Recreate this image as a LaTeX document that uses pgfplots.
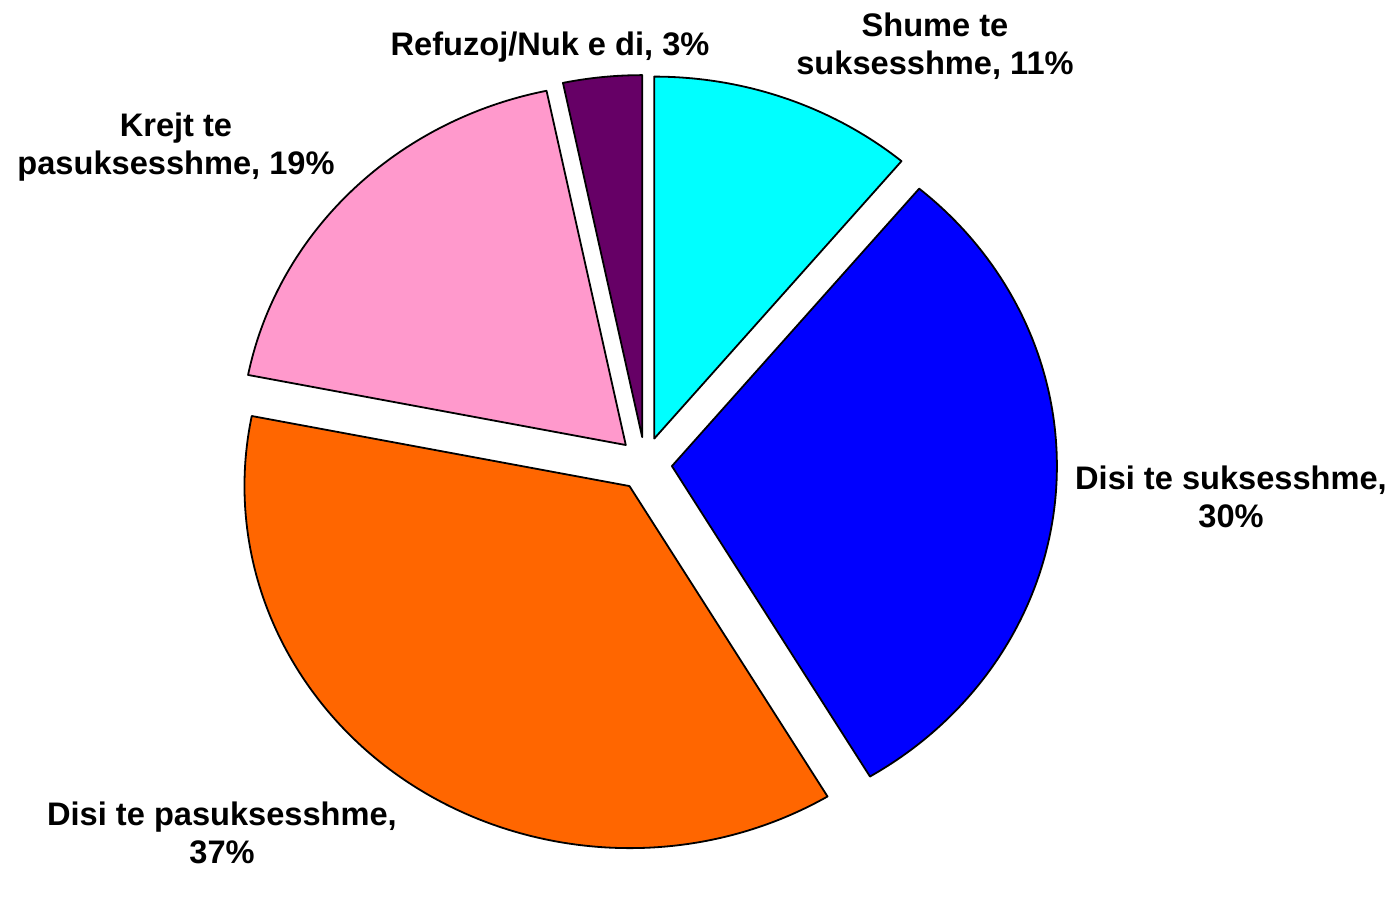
\documentclass[border=0pt]{standalone}
\usepackage{pgfplots}
\usepackage{pgfplotstable}
\pgfplotsset{compat=1.18}
\usepackage{fontspec}
\setmainfont{Liberation Sans}

\definecolor{sliceA}{RGB}{0,255,255}
\definecolor{sliceB}{RGB}{0,0,255}
\definecolor{sliceC}{RGB}{255,102,0}
\definecolor{sliceD}{RGB}{255,153,204}
\definecolor{sliceE}{RGB}{102,0,102}

% shares in percent, clockwise from 12 o'clock
\pgfplotstableread{
value color
11.1  sliceA
30.3  sliceB
36.7  sliceC
18.6  sliceD
3.3   sliceE
}\piedata

% pie geometry in axis units (1 unit = 1 px of the reference)
\def\pcx{645}\def\pcy{403}
\def\pexpl{27}

% start/end angle, colour and exploded centre of every slice
\pgfmathsetmacro\acc{90}
\pgfplotsforeachungrouped \i in {0,...,4}{%
  \pgfplotstablegetelem{\i}{value}\of\piedata
  \pgfmathsetmacro\a{\acc}%
  \pgfmathsetmacro\b{\acc-3.6*\pgfplotsretval}%
  \pgfmathsetmacro\m{(\a+\b)/2}%
  \pgfmathsetmacro\ox{\pcx+\pexpl*cos(\m)}%
  \pgfmathsetmacro\oy{\pcy+\pexpl*sin(\m)}%
  \expandafter\xdef\csname pa\i\endcsname{\a}%
  \expandafter\xdef\csname pb\i\endcsname{\b}%
  \expandafter\xdef\csname px\i\endcsname{\ox}%
  \expandafter\xdef\csname py\i\endcsname{\oy}%
  \pgfplotstablegetelem{\i}{color}\of\piedata
  \expandafter\xdef\csname pc\i\endcsname{\pgfplotsretval}%
  \global\let\acc\b
}

\tikzset{lbl/.style={align=center, font=\bfseries\fontsize{16.3}{19}\selectfont}}

\begin{document}
\begin{tikzpicture}
  \begin{axis}[
      x=0.5pt, y=0.5pt,
      xmin=0, xmax=1394,
      ymin=0, ymax=867,
      hide axis,
      clip=false
    ]
    % keeps the page as large as the reference
    \addplot[draw=none, forget plot] coordinates {(0,0) (1394,867)};

    \pgfplotsinvokeforeach{0,...,4}{
      \filldraw[fill=\csname pc#1\endcsname, draw=black, line width=0.9pt, line join=round]
        (axis cs:\csname px#1\endcsname,\csname py#1\endcsname)
        -- ++(\csname pa#1\endcsname:192.5pt and 181pt)
        arc[start angle=\csname pa#1\endcsname, end angle=\csname pb#1\endcsname,
            x radius=192.5pt, y radius=181pt]
        -- cycle;
    }

    \node[lbl] at (axis cs:935,821) {Shume te\\suksesshme, 11\%};
    \node[lbl] at (axis cs:1231,370) {Disi te suksesshme,\\30\%};
    \node[lbl] at (axis cs:222,34) {Disi te pasuksesshme,\\37\%};
    \node[lbl] at (axis cs:176,720) {Krejt te\\pasuksesshme, 19\%};
    \node[lbl] at (axis cs:550,820) {Refuzoj/Nuk e di, 3\%};

  \end{axis}
\end{tikzpicture}
\end{document}
